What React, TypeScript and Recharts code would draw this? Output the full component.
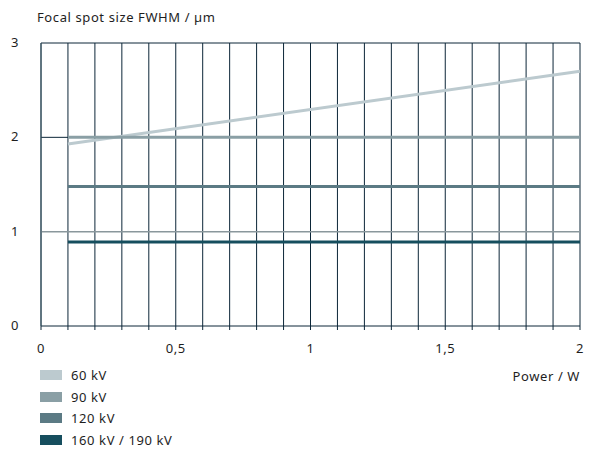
import React from "react";
import {
  LineChart,
  Line,
  XAxis,
  YAxis,
  CartesianGrid,
  ReferenceLine,
} from "recharts";

const power = [0.1, 2];
const kv60 = [1.93, 2.7];
const kv90 = [2.0, 2.0];
const kv120 = [1.48, 1.48];
const kv160 = [0.89, 0.89];

const xTicks = [
  0, 0.1, 0.2, 0.3, 0.4, 0.5, 0.6, 0.7, 0.8, 0.9, 1, 1.1, 1.2, 1.3, 1.4, 1.5,
  1.6, 1.7, 1.8, 1.9, 2,
];
const xLabels = [0, 0.5, 1, 1.5, 2];
const yTicks = [0, 1, 2, 3];

const series = [
  { key: "kv60", name: "60 kV", color: "#bccacf", values: kv60 },
  { key: "kv90", name: "90 kV", color: "#8a9fa5", values: kv90 },
  { key: "kv120", name: "120 kV", color: "#5b7a84", values: kv120 },
  { key: "kv160", name: "160 kV / 190 kV", color: "#164e5e", values: kv160 },
];

const data = power.map((p, i) => {
  const row: Record<string, number> = { power: p };
  series.forEach((s) => (row[s.key] = s.values[i]));
  return row;
});

const font = "'Noto Sans', sans-serif";
const textColor = "#1e1e1e";
const gridColor = "#0c2638";
const fs = 13;
const ls = 0.6;

const App: React.FC = () => {
  return (
    <div
      style={{
        position: "absolute",
        left: 0,
        top: 0,
        width: 594,
        height: 450,
        fontFamily: font,
        color: textColor,
        background: "#fff",
        letterSpacing: ls,
      }}
    >
      <div style={{ position: "absolute", left: 37, top: 8, fontSize: fs }}>
        Focal spot size FWHM / µm
      </div>
      <LineChart
        width={594}
        height={370}
        data={data}
        margin={{ top: 43, right: 14, left: 0, bottom: 14 }}
      >
        <CartesianGrid
          stroke={gridColor}
          strokeWidth={1}
          vertical
          horizontal={false}
        />
        <XAxis
          dataKey="power"
          type="number"
          domain={[0, 2]}
          ticks={xTicks}
          interval={0}
          height={30}
          tickSize={4}
          tickMargin={14}
          stroke={gridColor}
          tickLine={{ stroke: gridColor }}
          tick={{ fill: textColor, fontSize: fs, fontFamily: font }}
          tickFormatter={(v: number) =>
            xLabels.some((l) => Math.abs(l - v) < 1e-6)
              ? String(v).replace(".", ",")
              : ""
          }
        />
        <YAxis
          type="number"
          domain={[0, 3]}
          ticks={yTicks}
          width={41}
          stroke="#3d5866"
          tickLine={false}
          tick={(props: any) => (
            <text
              x={11}
              y={props.y}
              dy={4}
              fill={textColor}
              fontSize={fs}
              fontFamily={font}
            >
              {props.payload.value}
            </text>
          )}
        />
        <ReferenceLine y={3} stroke={gridColor} strokeWidth={1} />
        <ReferenceLine y={2} stroke={gridColor} strokeWidth={1} />
        <ReferenceLine y={1} stroke="#8a979c" strokeWidth={1.5} />
        {series.map((s) => (
          <Line
            key={s.key}
            dataKey={s.key}
            name={s.name}
            type="linear"
            stroke={s.color}
            strokeWidth={3}
            dot={false}
            activeDot={false}
            isAnimationActive={false}
          />
        ))}
      </LineChart>
      <div
        style={{
          position: "absolute",
          right: 14,
          top: 369,
          fontSize: fs,
          lineHeight: "14px",
        }}
      >
        Power / W
      </div>
      {series.map((s, i) => (
        <div
          key={s.key}
          style={{
            position: "absolute",
            left: 40,
            top: 368 + i * 21.5,
            height: 14,
            display: "flex",
            alignItems: "center",
            fontSize: fs,
            lineHeight: "14px",
          }}
        >
          <span
            style={{
              display: "inline-block",
              width: 22,
              height: 10,
              background: s.color,
              marginRight: 9,
            }}
          />
          {s.name}
        </div>
      ))}
    </div>
  );
};

export default App;
